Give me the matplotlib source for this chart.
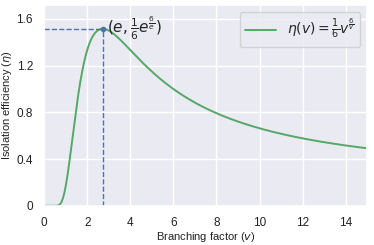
import numpy as np
import matplotlib
matplotlib.use("Agg")
import matplotlib.pyplot as plt
import seaborn as sns

sns.set_theme(style="darkgrid")
plt.rcParams['font.family'] = ['Liberation Sans', 'DejaVu Sans']
plt.rcParams['mathtext.fontset'] = 'dejavusans'

# branching factor and isolation efficiency eta(v) = 1/6 * v^(6/v)
v = np.linspace(0.01, 15, 1500)
eta = v ** (6.0 / v) / 6.0
v_peak = np.e
eta_peak = np.e ** (6.0 / np.e) / 6.0

x_ticks = [0, 2, 4, 6, 8, 10, 12, 14]
y_ticks = [0, 0.4, 0.8, 1.2, 1.6]
y_tick_labels = ["0", "0.4", "0.8", "1.2", "1.6"]

fig, ax = plt.subplots(figsize=(3.74, 2.45), dpi=100)
ax.plot(v, eta, color="#55A868", lw=1.4, label=r"$\eta(v)=\frac{1}{6}v^{\frac{6}{v}}$")
ax.plot([0, v_peak], [eta_peak, eta_peak], ls="--", color="#4C72B0", lw=1.0)
ax.plot([v_peak, v_peak], [0, eta_peak], ls="--", color="#4C72B0", lw=1.0)
ax.plot([v_peak], [eta_peak], "o", color="#4C72B0", ms=3)
ax.text(v_peak + 0.2, eta_peak, r"$(e,\frac{1}{6}e^{\frac{6}{e}})$", fontsize=11, va="center")

ax.set_xlim(0, 15)
ax.set_ylim(0, 1.72)
ax.set_xticks(x_ticks)
ax.set_yticks(y_ticks)
ax.set_yticklabels(y_tick_labels)
ax.tick_params(labelsize=8.5, pad=2, labelcolor="#222222")
ax.set_xlabel("Branching factor ($v$)", fontsize=8, labelpad=1, color="#222222")
ax.set_ylabel("Isolation efficiency ($\\eta$)", fontsize=8, labelpad=2, color="#222222")
ax.legend(loc="upper right", fontsize=10, handlelength=2.2)

fig.subplots_adjust(left=0.118, right=0.982, top=0.98, bottom=0.16)
fig.savefig("out.png", dpi=100)
